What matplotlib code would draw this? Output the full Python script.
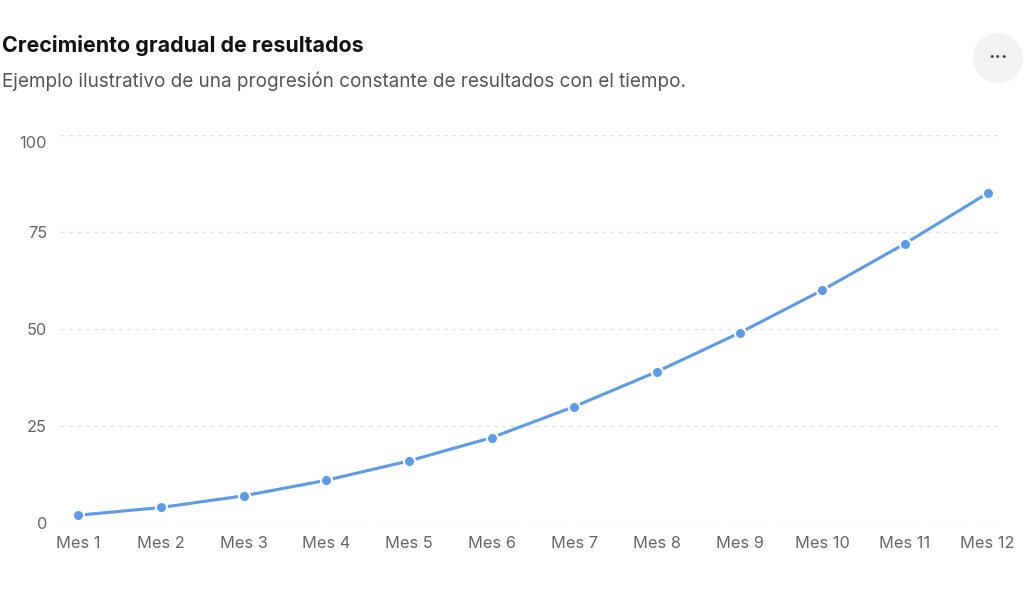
import matplotlib.pyplot as plt
from matplotlib.patches import Circle
from matplotlib.transforms import ScaledTranslation

# data
meses = ['Mes 1', 'Mes 2', 'Mes 3', 'Mes 4', 'Mes 5', 'Mes 6',
         'Mes 7', 'Mes 8', 'Mes 9', 'Mes 10', 'Mes 11', 'Mes 12']
resultados = [2, 4, 7, 11, 16, 22, 30, 39, 49, 60, 72, 85]
y_ticks = [0, 25, 50, 75, 100]

plt.rcParams['font.family'] = ['Inter', 'DejaVu Sans']

fig = plt.figure(figsize=(10.24, 6.03), dpi=100)
ax = fig.add_axes([60 / 1024, 80 / 603, 940 / 1024, 388 / 603])

x = list(range(len(meses)))
ax.plot(x, resultados, color='#5b9bea', lw=2.2, marker='o', ms=8,
        mfc='#5b9bea', mec='white', mew=1.5, clip_on=False, zorder=3)

ax.set_xlim(-0.22, 11.15)
ax.set_ylim(0, 100)
ax.set_xticks(x)
ax.set_xticklabels(meses)
ax.set_yticks(y_ticks)
ax.tick_params(length=0, labelsize=11.8, labelcolor='#666666')
ax.tick_params(axis='x', pad=9)
ax.tick_params(axis='y', pad=9.4)
ax.grid(axis='y', color='#e3e3e3', lw=1, ls=(0, (3, 3)))
ax.set_axisbelow(True)
for s in ax.spines.values():
    s.set_visible(False)

# top label sits a little below its gridline
fig.canvas.draw()
top = ax.get_yticklabels()[-1]
top.set_transform(top.get_transform() + ScaledTranslation(0, -0.07, fig.dpi_scale_trans))

# header
fig.text(2 / 1024, 1 - 46 / 603, 'Crecimiento gradual de resultados',
         fontsize=15.4, fontweight='bold', color='#111111', va='center')
fig.text(2 / 1024, 1 - 81 / 603,
         'Ejemplo ilustrativo de una progresión constante de resultados con el tiempo.',
         fontsize=13.6, color='#555555', va='center')

# menu button
btn = Circle((9.98, (603 - 58) / 100), 0.25, transform=fig.dpi_scale_trans,
             facecolor='#f2f2f2', edgecolor='none')
fig.patches.append(btn)
fig.text(998 / 1024, 1 - 58 / 603, '···', fontsize=14, fontweight='bold',
         color='#444444', ha='center', va='center')

fig.savefig('out.png', dpi=100, facecolor='white')
